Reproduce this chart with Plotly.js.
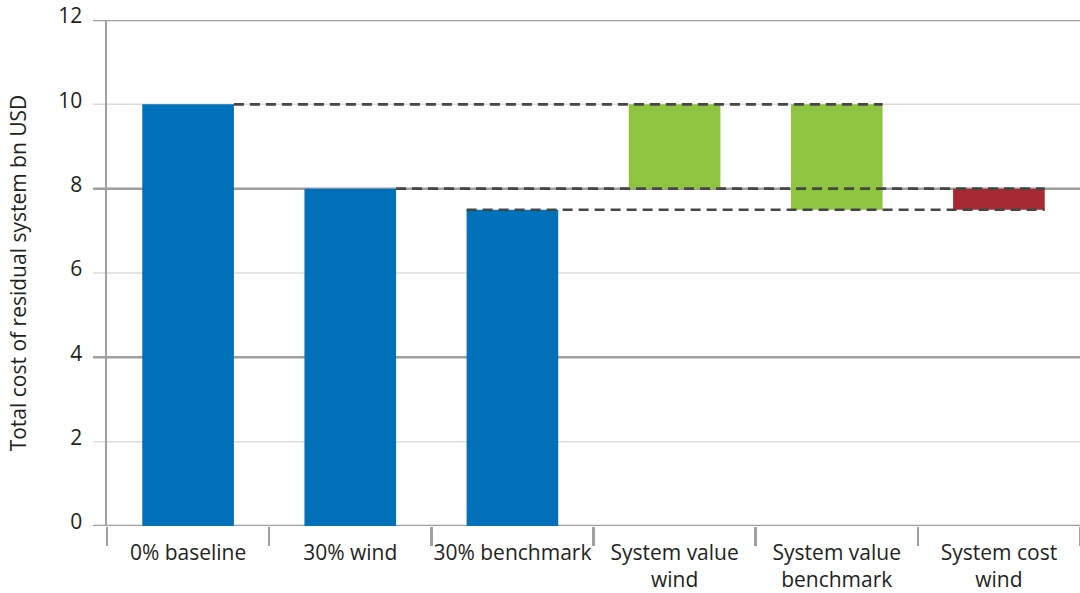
<!DOCTYPE html>
<html>
<head>
<meta charset="utf-8">
<script src="https://cdn.plot.ly/plotly-3.0.1.min.js"></script>
<style>
  html, body { margin: 0; padding: 0; background: #ffffff; }
  #chart { width: 1080px; height: 593px; }
</style>
</head>
<body>
<div id="chart"></div>
<script>
// ---- data ----
const categories = ["0% baseline", "30% wind", "30% benchmark",
  "System value<br>wind", "System value<br>benchmark", "System cost<br>wind"];
const totalCategories = ["0% baseline", "30% wind", "30% benchmark"];
const totalValues = [10, 8, 7.5];
const valueCategories = ["System value<br>wind", "System value<br>benchmark"];
const valueBase = [8, 7.5];
const valueDelta = [2, 2.5];
const costCategories = ["System cost<br>wind"];
const costBase = [7.5];
const costDelta = [0.5];
const yTickValues = [0, 2, 4, 6, 8, 10, 12];
const yTickLabels = ["0", "2", "4", "6", "8", "10", "12"];
const yTitle = "Total cost of residual system bn USD";

// ---- styles ----
const FONT = "Open Sans, sans-serif";
const FS = 21;
const TXT = "#231f20";
const BLUE = "#0070b9", GREEN = "#8dc440", RED = "#a62a32";
const AXIS = "#a0a0a0", MINOR = "#dcdcdc";
const BW = 0.565;

const traces = [
  { type: "bar", x: totalCategories, y: totalValues, marker: { color: BLUE }, width: BW, hoverinfo: "x+y" },
  { type: "bar", x: valueCategories, y: valueDelta, base: valueBase, marker: { color: GREEN }, width: BW, hoverinfo: "x+y" },
  { type: "bar", x: costCategories, y: costDelta, base: costBase, marker: { color: RED }, width: BW, hoverinfo: "x+y" }
];

const shapes = [];
// gridlines (extend left past the axis)
yTickValues.forEach((v) => {
  const major = (v % 4 === 0);
  shapes.push({
    type: "line", layer: "below", xref: "paper", yref: "y",
    x0: -14 / 973, x1: 1, y0: v, y1: v,
    line: { color: major ? AXIS : MINOR, width: major ? 2.5 : 1.5 }
  });
});
// connector dashed lines, derived from the data
const idx = c => categories.indexOf(c);
const DASH = { color: "#454545", width: 2.6, dash: "10px,6px" };
const connectors = [
  { level: totalValues[0], from: idx(totalCategories[0]) + BW / 2, to: idx(valueCategories[1]) + BW / 2 },
  { level: totalValues[1], from: idx(totalCategories[1]) + BW / 2, to: idx(costCategories[0]) + BW / 2 },
  { level: totalValues[2], from: idx(totalCategories[2]) - BW / 2, to: idx(costCategories[0]) + BW / 2 }
];
connectors.forEach(c => shapes.push({
  type: "line", layer: "above", xref: "x", yref: "y",
  x0: c.from, x1: c.to, y0: c.level, y1: c.level, line: DASH
}));

const layout = {
  width: 1080, height: 593,
  margin: { l: 107, r: 0, t: 20, b: 67, pad: 0 },
  paper_bgcolor: "#ffffff", plot_bgcolor: "#ffffff",
  showlegend: false,
  barmode: "overlay",
  font: { family: FONT, size: FS, color: TXT },
  xaxis: {
    type: "category", categoryorder: "array", categoryarray: categories,
    range: [-0.5, 5.5],
    showgrid: false, zeroline: false, showline: false,
    ticks: "outside", tickson: "boundaries", ticklen: 19, tickwidth: 2.5, tickcolor: AXIS,
    tickangle: 0, automargin: false,
    ticklabelstandoff: 12,
    tickfont: { family: FONT, size: FS, color: TXT },
    fixedrange: true
  },
  yaxis: {
    range: [0, 12],
    tickvals: yTickValues, ticktext: yTickLabels,
    showgrid: false, zeroline: false,
    showline: true, linecolor: AXIS, linewidth: 2.5,
    ticks: "", ticklabelstandoff: 18, ticklabelshift: -4,
    tickfont: { family: FONT, size: FS, color: TXT },
    title: { text: yTitle, font: { family: FONT, size: FS, color: TXT }, standoff: 26 },
    automargin: false,
    fixedrange: true
  },
  shapes: shapes
};

Plotly.newPlot("chart", traces, layout, { displayModeBar: false, staticPlot: true });
</script>
</body>
</html>
